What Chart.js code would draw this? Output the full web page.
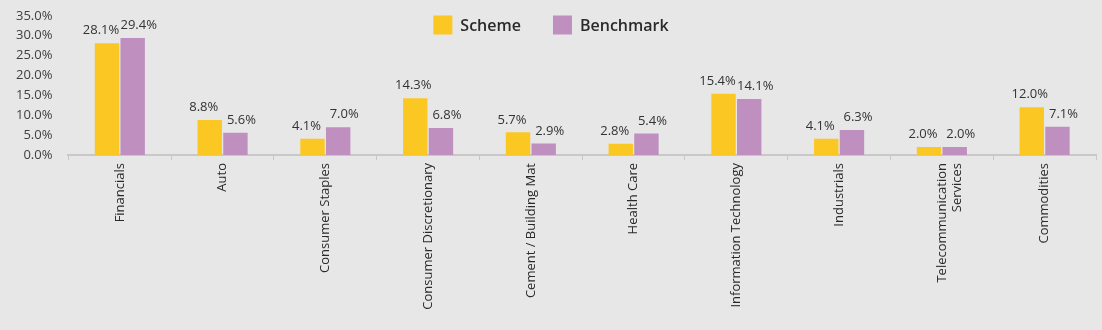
<!DOCTYPE html>
<html>
<head>
<meta charset="utf-8">
<script src="https://cdn.jsdelivr.net/npm/chart.js@4.4.1/dist/chart.umd.min.js"></script>
<style>
  html, body { margin: 0; padding: 0; background: #e7e7e8; }
  #wrap { width: 1102px; height: 330px; }
</style>
</head>
<body>
<div id="wrap"><canvas id="myChart"></canvas></div>
<script>
// sector weights (%)
var sectors = ["Financials", "Auto", "Consumer Staples", "Consumer Discretionary",
  "Cement / Building Mat", "Health Care", "Information Technology", "Industrials",
  ["Telecommunication", "Services"], "Commodities"];
var schemeValues = [28.1, 8.8, 4.1, 14.3, 5.7, 2.8, 15.4, 4.1, 2.0, 12.0];
var benchmarkValues = [29.4, 5.6, 7.0, 6.8, 2.9, 5.4, 14.1, 6.3, 2.0, 7.1];
var seriesNames = ["Scheme", "Benchmark"];
var barColors = ["#fbc823", "#bf8fc0"];

var fontName = "'Open Sans', sans-serif";

// % value above each bar, the pair pushed slightly apart
var valueLabels = {
  id: "valueLabels",
  afterDatasetsDraw: function(chart) {
    var ctx = chart.ctx;
    ctx.save();
    ctx.font = "13px " + fontName;
    ctx.fillStyle = "#333333";
    ctx.textAlign = "center";
    ctx.textBaseline = "bottom";
    var a = chart.getDatasetMeta(0).data;
    var b = chart.getDatasetMeta(1).data;
    for (var j = 0; j < a.length; j++) {
      var ya = a[j].y - 6, yb = b[j].y - 6;
      var close = Math.abs(ya - yb) < 15;
      ctx.fillText(schemeValues[j].toFixed(1) + "%", a[j].x - (close ? 6 : 2), ya);
      ctx.fillText(benchmarkValues[j].toFixed(1) + "%", b[j].x + 6, yb);
    }
    ctx.restore();
  }
};

// legend drawn over the top of the plot, centred on the canvas
var topLegend = {
  id: "topLegend",
  afterDraw: function(chart) {
    var ctx = chart.ctx;
    ctx.save();
    ctx.font = "600 16px " + fontName;
    ctx.textBaseline = "middle";
    ctx.textAlign = "left";
    var box = 19, gap = 8, space = 32, cy = 25;
    var total = 0;
    seriesNames.forEach(function(n, i) {
      total += box + gap + ctx.measureText(n).width + (i ? 0 : space);
    });
    var x = chart.width / 2 - total / 2;
    seriesNames.forEach(function(n, i) {
      ctx.fillStyle = barColors[i];
      ctx.fillRect(x, cy - box / 2, box, box);
      ctx.fillStyle = "#2a2a2a";
      ctx.fillText(n, x + box + gap, cy + 1);
      x += box + gap + ctx.measureText(n).width + space;
    });
    ctx.restore();
  }
};

new Chart("myChart", {
  type: "bar",
  data: {
    labels: sectors,
    datasets: [{
      label: seriesNames[0],
      backgroundColor: barColors[0],
      data: schemeValues
    }, {
      label: seriesNames[1],
      backgroundColor: barColors[1],
      data: benchmarkValues
    }]
  },
  options: {
    responsive: true,
    maintainAspectRatio: false,
    animation: false,
    layout: { padding: { left: 8, right: 6, top: 8, bottom: 8 } },
    datasets: { bar: { barPercentage: 0.95, categoryPercentage: 0.5 } },
    plugins: {
      legend: { display: false },
      tooltip: { enabled: false }
    },
    scales: {
      x: {
        afterFit: function(s) { s.height = 167; },
        grid: { display: true, drawOnChartArea: false, color: "#c8c8c8", tickLength: 5 },
        border: { color: "#c8c8c8", width: 2 },
        ticks: {
          color: "#2a2a2a",
          maxRotation: 90,
          minRotation: 90,
          autoSkip: false,
          font: { family: fontName, size: 13 }
        }
      },
      y: {
        min: 0,
        max: 35,
        grid: { display: false },
        border: { display: false },
        ticks: {
          stepSize: 5,
          color: "#404040",
          padding: 8,
          font: { family: fontName, size: 13 },
          callback: function(v) { return v.toFixed(1) + "%"; }
        }
      }
    }
  },
  plugins: [valueLabels, topLegend]
});
</script>
</body>
</html>
